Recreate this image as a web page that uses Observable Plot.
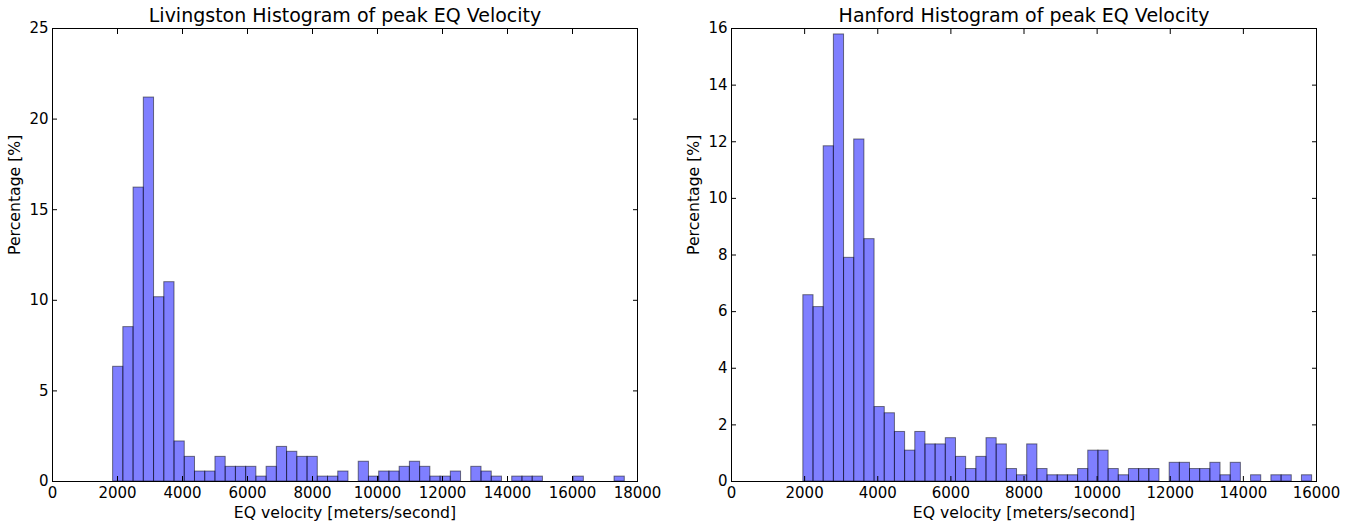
<!DOCTYPE html>
<html><head><meta charset="utf-8">
<script src="https://cdn.jsdelivr.net/npm/d3@7"></script>
<script src="https://cdn.jsdelivr.net/npm/@observablehq/plot@0.6"></script>
<style>
body{margin:0;background:#fff;}
#wrap{display:flex;width:1355px;height:529px;}
#wrap svg{display:block;}
</style></head><body><div id="wrap"></div>
<script>
// Percentage of events per velocity bin (50 bins each)
const livingstonPct = [6.33, 8.52, 16.22, 21.19, 10.17, 11.0, 2.21, 1.36, 0.55, 0.55,
  1.36, 0.81, 0.81, 0.81, 0.27, 0.81, 1.91, 1.64, 1.36, 1.36,
  0.27, 0.27, 0.55, 0, 1.09, 0.27, 0.55, 0.55, 0.81, 1.09,
  0.81, 0.27, 0.27, 0.55, 0, 0.81, 0.55, 0.27, 0, 0.27,
  0.27, 0.27, 0, 0, 0, 0.27, 0, 0, 0, 0.27];
const hanfordPct = [6.58, 6.16, 11.84, 15.79, 7.90, 12.08, 8.56, 2.63, 2.41, 1.75,
  1.09, 1.75, 1.31, 1.31, 1.53, 0.87, 0.44, 0.87, 1.53, 1.31,
  0.44, 0.22, 1.31, 0.44, 0.22, 0.22, 0.22, 0.44, 1.09, 1.09,
  0.44, 0.22, 0.44, 0.44, 0.44, 0, 0.66, 0.66, 0.44, 0.44,
  0.66, 0.22, 0.66, 0, 0.22, 0, 0.22, 0.22, 0, 0.22];
// Bin range (min, max velocity) of each histogram
const livingstonRange = [1865, 17609];
const hanfordRange = [1965, 15880];
// Axis ticks
const livingstonXTicks = [0, 2000, 4000, 6000, 8000, 10000, 12000, 14000, 16000, 18000];
const hanfordXTicks = [0, 2000, 4000, 6000, 8000, 10000, 12000, 14000, 16000];
const livingstonYTicks = [0, 5, 10, 15, 20, 25];
const hanfordYTicks = [0, 2, 4, 6, 8, 10, 12, 14, 16];
const titles = ["Livingston Histogram of peak EQ Velocity", "Hanford Histogram of peak EQ Velocity"];
const xLabel = "EQ velocity [meters/second]";
const yLabel = "Percentage [%]";

function panel({title, pct, range, xTicks, yTicks, width, marginLeft, marginRight}) {
  const n = pct.length, w = (range[1] - range[0]) / n;
  const bins = pct.map((v, i) => ({x1: range[0] + i * w, x2: range[0] + (i + 1) * w, v}));
  const fmt = d3.format("d");
  return Plot.plot({
    width, height: 529, marginLeft, marginRight, marginTop: 28, marginBottom: 48,
    style: {fontFamily: "DejaVu Sans", fontSize: "15px", color: "black", background: "white"},
    x: {domain: [xTicks[0], xTicks[xTicks.length - 1]]},
    y: {domain: [yTicks[0], yTicks[yTicks.length - 1]]},
    marks: [
      Plot.rectY(bins, {x1: "x1", x2: "x2", y: "v", fill: "blue", fillOpacity: 0.5, stroke: "black", strokeOpacity: 0.5, strokeWidth: 1}),
      Plot.frame({stroke: "black", strokeWidth: 1}),
      Plot.axisX({anchor: "bottom", ticks: xTicks, tickSize: 0, tickPadding: 6, label: null, tickFormat: fmt}),
      Plot.axisX({anchor: "bottom", ticks: xTicks, tickSize: 5, dy: -5, fill: "none", label: null}),
      Plot.axisX({anchor: "top", ticks: xTicks, tickSize: 5, dy: 5, fill: "none", label: null}),
      Plot.axisY({anchor: "left", ticks: yTicks, tickSize: 0, tickPadding: 4, label: null, tickFormat: fmt}),
      Plot.axisY({anchor: "left", ticks: yTicks, tickSize: 5, dx: 5, fill: "none", label: null}),
      Plot.axisY({anchor: "right", ticks: yTicks, tickSize: 5, dx: -5, fill: "none", label: null}),
      Plot.text([title], {frameAnchor: "top", lineAnchor: "bottom", dy: -7, fontSize: 19}),
      Plot.text([xLabel], {frameAnchor: "bottom", lineAnchor: "bottom", dy: 36, fontSize: 15.7}),
      Plot.text([yLabel], {frameAnchor: "left", lineAnchor: "middle", rotate: -90, dx: -38, fontSize: 15.7})
    ]
  });
}

const wrap = document.getElementById("wrap");
wrap.append(panel({title: titles[0], pct: livingstonPct, range: livingstonRange, xTicks: livingstonXTicks, yTicks: livingstonYTicks, width: 680, marginLeft: 52, marginRight: 43}));
wrap.append(panel({title: titles[1], pct: hanfordPct, range: hanfordRange, xTicks: hanfordXTicks, yTicks: hanfordYTicks, width: 675, marginLeft: 51, marginRight: 39}));
</script></body></html>
